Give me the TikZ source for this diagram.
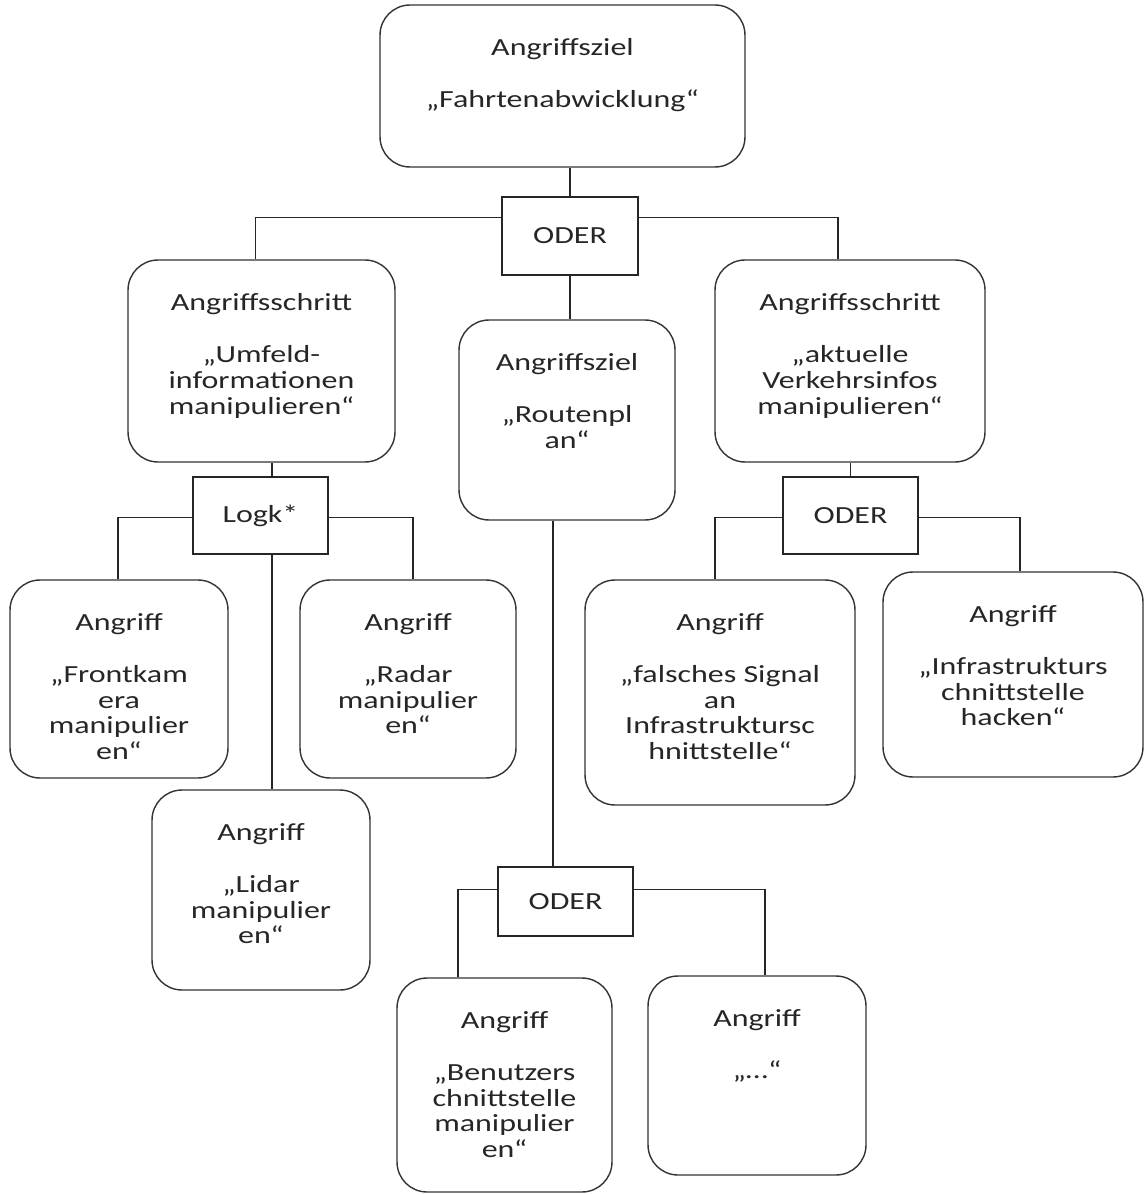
\documentclass[tikz,border=0pt]{standalone}
\usepackage{fontspec}
\setmainfont{Carlito}[FakeStretch=1.3]
\usetikzlibrary{calc,positioning}
\newcommand{\engsatz}{\fontsize{14}{14.6}\selectfont\lineskiplimit=-30pt\relax}

\begin{document}
\begin{tikzpicture}[
	x=0.02cm,y=-0.02cm,
	kasten/.style={draw=black!80,line width=.8pt,rounded corners=0.6cm},
	verkn/.style={draw=black!85,line width=.8pt,font=\engsatz,text=black!85},
	inhalt/.style={anchor=north,align=center,inner sep=0pt,yshift=-0.68cm,
		font=\engsatz,text=black!85},
	linie/.style={draw=black!85,line width=.8pt}
	]

	\useasboundingbox (0,0) rectangle (1145,1195);

	% Ebene 1
	\node[kasten,minimum width=7.3cm,minimum height=3.24cm,
		label={[inhalt]north:Angriffsziel\\[15pt]„Fahrtenabwicklung“}] (ziel) at (562.5,86) {};
	\node[verkn,minimum width=2.72cm,minimum height=1.56cm] (oderA) at (570,236) {ODER};

	% Ebene 2
	\node[kasten,minimum width=5.34cm,minimum height=4.04cm,
		label={[inhalt]north:Angriffsschritt\\[15pt]„Umfeld-\\informationen\\manipulieren“}] (schrittL) at (261.5,361) {};
	\node[kasten,minimum width=4.32cm,minimum height=4.0cm,
		label={[inhalt]north:Angriffsziel\\[15pt]„Routenpl\\an“}] (route) at (567,420) {};
	\node[kasten,minimum width=5.4cm,minimum height=4.04cm,
		label={[inhalt]north:Angriffsschritt\\[15pt]„aktuelle\\Verkehrsinfos\\manipulieren“}] (schrittR) at (850,361) {};

	\node[verkn,minimum width=2.7cm,minimum height=1.54cm] (logik) at (260.5,515.5) {Logk*};
	\node[verkn,minimum width=2.7cm,minimum height=1.54cm] (oderB) at (850.5,515.5) {ODER};

	% Ebene 3 links
	\node[kasten,minimum width=4.36cm,minimum height=3.96cm,
		label={[inhalt]north:Angriff\\[15pt]„Frontkam\\era\\manipulier\\en“}] (front) at (119,679) {};
	\node[kasten,minimum width=4.32cm,minimum height=3.96cm,
		label={[inhalt]north:Angriff\\[15pt]„Radar\\manipulier\\en“}] (radar) at (408,679) {};
	\node[kasten,minimum width=4.36cm,minimum height=4.0cm,
		label={[inhalt]north:Angriff\\[15pt]„Lidar\\manipulier\\en“}] (lidar) at (261,890) {};

	% Ebene 3 rechts
	\node[kasten,minimum width=5.4cm,minimum height=4.5cm,
		label={[inhalt]north:Angriff\\[15pt]„falsches Signal\\an\\Infrastruktursc\\hnittstelle“}] (signal) at (720,692.5) {};
	\node[kasten,minimum width=5.2cm,minimum height=4.1cm,
		label={[inhalt]north:Angriff\\[15pt]„Infrastrukturs\\chnittstelle\\hacken“}] (infra) at (1013,674.5) {};

	% Ebene 3 Mitte
	\node[verkn,minimum width=2.7cm,minimum height=1.38cm] (oderC) at (565.5,901.5) {ODER};
	\node[kasten,minimum width=4.3cm,minimum height=4.28cm,
		label={[inhalt]north:Angriff\\[15pt]„Benutzers\\chnittstelle\\manipulier\\en“}] (benutzer) at (504.5,1085) {};
	\node[kasten,minimum width=4.36cm,minimum height=3.98cm,
		label={[inhalt]north:Angriff\\[15pt]„…“}] (rest) at (757,1075.5) {};

	% Verbindungen
	\draw[linie] (oderA.north) -- (oderA.north |- ziel.south);
	\draw[linie] (oderA.north west) ++(0,21) -| ($(schrittL.north)+(-6,0)$);
	\draw[linie] (oderA.north east) ++(0,21) -| ($(schrittR.north)+(-12,0)$);
	\draw[linie] (oderA.south) -- (oderA.south |- route.north);

	\coordinate (l1) at ($(logik.north)+(11.5,0)$);
	\coordinate (l2) at ($(logik.south)+(11.5,0)$);
	\draw[linie] (l1) -- (l1 |- schrittL.south);
	\draw[linie] (l2) -- (l2 |- lidar.north);
	\draw[linie] (logik.north west) ++(0,41) -| ($(front.north)+(-1,0)$);
	\draw[linie] (logik.north east) ++(0,41) -| ($(radar.north)+(5,0)$);

	\draw[linie] (oderB.north) -- (oderB.north |- schrittR.south);
	\draw[linie] (oderB.north west) ++(0,41) -| ($(signal.north)+(-5,0)$);
	\draw[linie] (oderB.north east) ++(0,41) -| ($(infra.north)+(7,0)$);

	\coordinate (r1) at ($(route.south)+(-14,0)$);
	\draw[linie] (r1) -- (r1 |- oderC.north);
	\draw[linie] (oderC.north west) ++(0,23) -| ($(benutzer.north)+(-46.5,0)$);
	\draw[linie] (oderC.north east) ++(0,23) -| ($(rest.north)+(8,0)$);

\end{tikzpicture}
\end{document}
